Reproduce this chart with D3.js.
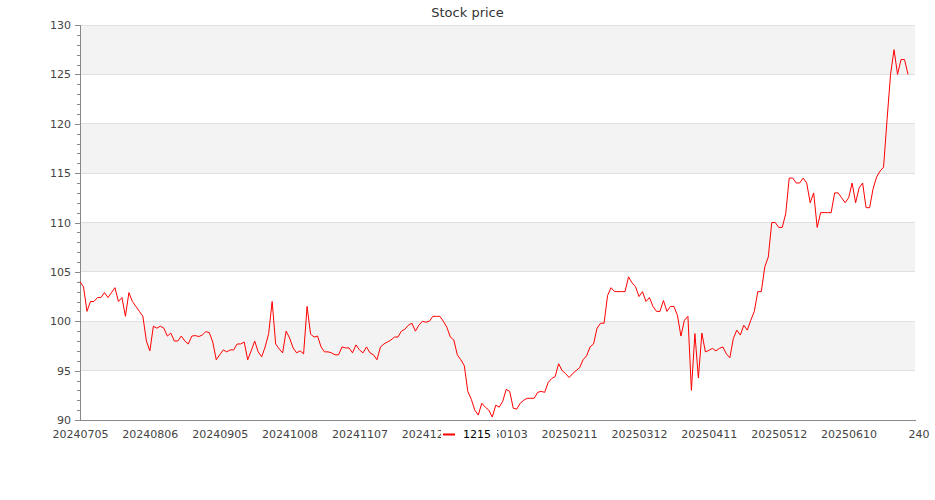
<!DOCTYPE html>
<html>
<head>
<meta charset="utf-8">
<script src="https://cdn.jsdelivr.net/npm/d3@7/dist/d3.min.js"></script>
<style>
  html, body { margin: 0; padding: 0; background: #fff; }
  svg { display: block; }
  text { font-family: "DejaVu Sans", sans-serif; }
</style>
</head>
<body>
<svg id="chart" width="935" height="500"></svg>
<script>
// ---- data ----
const title = "Stock price";
const seriesName = "1215";
const categoryCount = 240;          // categories on the x axis (trading days)
const labelEvery = 20;              // one tick label every 20 categories
const tickLabels = ["20240705", "20240806", "20240905", "20241008", "20241107", "20241205",
                    "20250103", "20250211", "20250312", "20250411", "20250512", "20250610", "240"];
const prices = [
  104.0, 103.5, 101.0, 102.0, 102.0, 102.4, 102.4, 102.9, 102.4, 102.9,
  103.4, 102.0, 102.4, 100.5, 102.9, 102.0, 101.5, 101.0, 100.5, 98.0,
  97.0, 99.5, 99.3, 99.5, 99.3, 98.5, 98.8, 98.0, 98.0, 98.5,
  98.0, 97.7, 98.5, 98.55, 98.45, 98.6, 98.95, 98.85, 97.9, 96.1,
  96.6, 97.1, 96.9, 97.1, 97.1, 97.7, 97.7, 97.9, 96.1, 97.0,
  98.0, 96.9, 96.4, 97.4, 98.75, 102.0, 97.7, 97.2, 96.8, 99.0,
  98.3, 97.3, 96.8, 97.0, 96.7, 101.5, 98.7, 98.4, 98.5, 97.4,
  96.9, 96.9, 96.8, 96.6, 96.6, 97.4, 97.3, 97.3, 96.8, 97.6,
  97.1, 96.8, 97.4, 96.8, 96.6, 96.1, 97.4, 97.7, 97.9, 98.1,
  98.4, 98.4, 99.0, 99.2, 99.6, 99.8, 99.0, 99.6, 100.0, 99.9,
  100.0, 100.5, 100.5, 100.5, 100.0, 99.4, 98.4, 98.1, 96.6, 96.1,
  95.5, 92.9, 92.1, 91.0, 90.5, 91.7, 91.3, 91.0, 90.3, 91.5,
  91.3, 91.9, 93.1, 92.9, 91.2, 91.1, 91.7, 92.0, 92.2, 92.2,
  92.2, 92.8, 92.9, 92.8, 93.8, 94.2, 94.4, 95.7, 95.0, 94.7,
  94.3, 94.7, 95.0, 95.3, 96.1, 96.5, 97.4, 97.7, 99.3, 99.8,
  99.8, 102.6, 103.4, 103.0, 103.0, 103.0, 103.0, 104.5, 103.9, 103.5,
  102.5, 103.0, 102.0, 102.4, 101.5, 101.0, 101.0, 102.1, 101.0, 101.5,
  101.5, 100.6, 98.5, 100.1, 100.5, 93.0, 98.75, 94.25, 98.8, 96.9,
  97.05, 97.25, 97.0, 97.25, 97.4, 96.7, 96.3, 98.25, 99.1, 98.6,
  99.6, 99.1, 100.1, 101.0, 103.0, 103.0, 105.5, 106.5, 110.0, 110.0,
  109.5, 109.5, 110.9, 114.5, 114.5, 114.0, 114.0, 114.5, 114.0, 112.0,
  113.0, 109.5, 111.0, 111.0, 111.0, 111.0, 113.0, 113.0, 112.5, 112.0,
  112.5, 114.0, 112.0, 113.5, 114.0, 111.5, 111.5, 113.4, 114.6, 115.2,
  115.6, 120.4, 125.0, 127.5, 125.0, 126.5, 126.5, 125.0
];
const yMin = 90, yMax = 130, yMajor = 5, yMinor = 1;

// ---- layout ----
const W = 935, H = 500;
const m = { left: 80, right: 20, top: 25, bottom: 80 };
const svg = d3.select("#chart");

const x = d3.scaleLinear().domain([0, categoryCount - 1]).range([m.left, W - m.right]);
const y = d3.scaleLinear().domain([yMin, yMax]).range([H - m.bottom, m.top]);

// alternating bands
const bandStarts = d3.range(yMin, yMax, yMajor);
svg.append("g").selectAll("rect").data(bandStarts).join("rect")
  .attr("x", x(0)).attr("width", x(categoryCount - 1) - x(0))
  .attr("y", d => y(d + yMajor)).attr("height", d => y(d) - y(d + yMajor))
  .attr("fill", (d, i) => (i % 2 === 1) ? "#f3f3f3" : "#ffffff");

// grid lines
svg.append("g").selectAll("line").data(d3.range(yMin + yMajor, yMax + 0.001, yMajor)).join("line")
  .attr("x1", x(0)).attr("x2", x(categoryCount - 1))
  .attr("y1", d => y(d)).attr("y2", d => y(d))
  .attr("stroke", "#e0e0e0").attr("stroke-width", 1).attr("shape-rendering", "crispEdges");

// y axis: minor ticks
const yMinorAxis = d3.axisLeft(y)
  .tickValues(d3.range(yMin, yMax + 0.001, yMinor).filter(v => v % yMajor !== 0))
  .tickSize(3).tickFormat("");
svg.append("g").attr("transform", `translate(${m.left},0)`).call(yMinorAxis)
  .call(g => g.select(".domain").remove())
  .call(g => g.selectAll("line").attr("stroke", "#888").attr("shape-rendering", "crispEdges"));

// y axis: major ticks
const yAxis = d3.axisLeft(y).tickValues(d3.range(yMin, yMax + 0.001, yMajor))
  .tickSize(5).tickPadding(4).tickFormat(d3.format("d"));
svg.append("g").attr("transform", `translate(${m.left},0)`).call(yAxis)
  .call(g => g.select(".domain").attr("stroke", "#888").attr("shape-rendering", "crispEdges"))
  .call(g => g.selectAll("line").attr("stroke", "#888").attr("shape-rendering", "crispEdges"))
  .call(g => g.selectAll("text").attr("font-size", 11).attr("fill", "#444")
    .attr("font-family", "DejaVu Sans, sans-serif"));

// x axis
const xTickValues = tickLabels.map((d, i) => i * labelEvery);
const xAxis = d3.axisBottom(x).tickValues(xTickValues)
  .tickSize(0).tickPadding(10).tickFormat((d, i) => tickLabels[i]);
svg.append("g").attr("transform", `translate(0,${H - m.bottom})`).call(xAxis)
  .call(g => g.select(".domain").attr("stroke", "#888").attr("shape-rendering", "crispEdges"))
  .call(g => g.selectAll("text").attr("font-size", 11).attr("fill", "#444")
    .attr("font-family", "DejaVu Sans, sans-serif"));

// line
const line = d3.line().x((d, i) => x(i)).y(d => y(d));
svg.append("path").datum(prices)
  .attr("d", line).attr("fill", "none")
  .attr("stroke", "#ff0000").attr("stroke-width", 1).attr("stroke-linejoin", "round");

// title
svg.append("text").attr("x", W / 2).attr("y", 17).attr("text-anchor", "middle")
  .attr("font-size", 13).attr("fill", "#333").text(title);

// legend
const lg = svg.append("g").attr("transform", "translate(441,425)");
lg.append("rect").attr("x", 0).attr("y", 0).attr("width", 56).attr("height", 19).attr("fill", "#fff");
lg.append("line").attr("x1", 2).attr("x2", 14).attr("y1", 9.5).attr("y2", 9.5)
  .attr("stroke", "#ff0000").attr("stroke-width", 2);
lg.append("text").attr("x", 22).attr("y", 13).attr("font-size", 11).attr("fill", "#000").text(seriesName);
</script>
</body>
</html>
